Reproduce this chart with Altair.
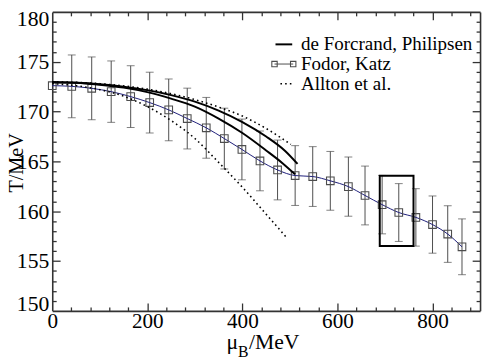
import altair as alt
import pandas as pd

# ---------------- data ----------------
# Fodor, Katz (squares with error bars)
fk_mu = [0, 41, 83, 124, 165, 205, 245, 284, 324, 362, 399, 437, 474, 511,
         548, 585, 623, 658, 694, 729, 765, 800, 832, 862]
fk_T = [172.6, 172.53, 172.33, 172.0, 171.5, 170.9, 170.17, 169.3, 168.37,
        167.29, 166.2, 165.05, 164.14, 163.58, 163.48, 163.05, 162.47, 161.58,
        160.66, 159.87, 159.38, 158.66, 157.71, 156.43]
fk_err = [None, 3.15, 3.15, 3.08, 3.1, 3.05, 3.1, 3.05, 3.05, 3.05, 3.05, 3.0,
          3.0, 3.0, 3.0, 2.95, 2.97, 2.95, 2.93, 2.9, 2.88, 2.87, 2.84, 2.8]

# de Forcrand, Philipsen (two solid curves)
dfp_up_mu = [0, 50, 100, 150, 200, 250, 300, 350, 400, 450, 490, 516]
dfp_up_T = [172.95, 172.9, 172.75, 172.5, 172.15, 171.65, 171.0, 170.1,
            168.95, 167.5, 166.05, 164.75]
dfp_lo_mu = [0, 50, 100, 150, 200, 250, 300, 350, 400, 450, 485, 511]
dfp_lo_T = [172.95, 172.9, 172.7, 172.4, 171.95, 171.3, 170.5, 169.3,
            167.85, 166.1, 164.8, 163.7]

# Allton et al. (two dotted curves)
al_up_mu = [0, 100, 200, 300, 350, 400, 450, 502]
al_up_T = [173.0, 172.8, 172.25, 171.2, 170.45, 169.55, 168.3, 166.7]
al_lo_mu = [0, 50, 100, 150, 200, 250, 300, 350, 400, 450, 495]
al_lo_T = [172.8, 172.6, 172.2, 171.55, 170.5, 169.1, 167.3, 164.9, 162.4,
           159.7, 157.25]

# box around the critical region
box_mu = [689, 760]
box_T = [156.5, 163.55]

legend_names = ["de Forcrand, Philipsen", "Fodor, Katz", "Allton et al."]

x_labels = [0, 200, 400, 600, 800]
y_labels = [150, 155, 160, 165, 170, 175, 180]
x_major = [200, 400, 600, 800]
x_minor = [v for v in range(40, 900, 40) if v % 200 != 0]
y_major = [155, 160, 165, 170, 175]
y_minor = [v for v in range(151, 180) if v % 5 != 0]

# ---------------- tables ----------------
fk = pd.DataFrame({"mu": fk_mu, "T": fk_T, "err": fk_err})
fk_e = fk.dropna().copy()
fk_e["lo"] = fk_e["T"] - fk_e["err"]
fk_e["hi"] = fk_e["T"] + fk_e["err"]
caps = pd.concat([
    pd.DataFrame({"mu": fk_e["mu"], "v": fk_e["lo"]}),
    pd.DataFrame({"mu": fk_e["mu"], "v": fk_e["hi"]}),
])

dfp = pd.concat([
    pd.DataFrame({"mu": dfp_up_mu, "T": dfp_up_T, "s": "up"}),
    pd.DataFrame({"mu": dfp_lo_mu, "T": dfp_lo_T, "s": "lo"}),
])
al = pd.concat([
    pd.DataFrame({"mu": al_up_mu, "T": al_up_T, "s": "up"}),
    pd.DataFrame({"mu": al_lo_mu, "T": al_lo_T, "s": "lo"}),
])
box = pd.DataFrame({"x1": [box_mu[0]], "x2": [box_mu[1]],
                    "y1": [box_T[0]], "y2": [box_T[1]]})

# ---------------- style ----------------
W, H = 435, 304
FONT = "Times New Roman, Liberation Serif, DejaVu Serif, serif"
AX = "#333333"
NAVY = "#1c1c78"
GREY = "#4d4d4d"

sx = alt.Scale(domain=[0, 900], nice=False, zero=False)
sy = alt.Scale(domain=[150, 180], nice=False, zero=False)


def tick_axis(orient, offset, values, size, domain=False):
    return alt.Axis(orient=orient, offset=offset, values=values, tickSize=size,
                    tickWidth=1.3, tickColor=AX, labels=False, domain=domain,
                    domainColor=AX, domainWidth=1.6, grid=False, title=None)


main_x = alt.Axis(orient="bottom", values=x_labels, ticks=False, tickSize=0,
                  domain=True, domainColor=AX, domainWidth=1.6,
                  labelFont=FONT, labelFontSize=21.5, labelColor="black",
                  labelBaseline="alphabetic", labelPadding=17,
                  labelFlush=False, labelOverlap=False, grid=False, title=None)
main_y = alt.Axis(orient="left", values=y_labels, ticks=False, tickSize=0,
                  domain=True, domainColor=AX, domainWidth=1.6,
                  labelFont=FONT, labelFontSize=22, labelColor="black",
                  labelPadding=3.5, labelFlush=False, labelOverlap=False,
                  labelOffset=alt.ExprRef(
                      expr="datum.value == 150 ? -7 : (datum.value == 180 ? 7 : 0)"),
                  grid=False, title="T/MeV", titleFont=FONT, titleFontSize=20.5,
                  titleFontWeight="normal", titleColor="black",
                  titleX=-30, titleY=153, titleAlign="center",
                  titleBaseline="alphabetic")

# ---------------- layers ----------------
err_rules = alt.Chart(fk_e).mark_rule(color=GREY, strokeWidth=1).encode(
    x=alt.X("mu:Q", scale=sx, axis=tick_axis("top", -H, x_major, 8)),
    y=alt.Y("lo:Q", scale=sy, axis=tick_axis("right", -W, y_major, 8)),
    y2="hi:Q",
)
err_caps = alt.Chart(caps).mark_tick(orient="horizontal", size=8, thickness=1,
                                     color=GREY).encode(
    x=alt.X("mu:Q", scale=sx, axis=tick_axis("top", -H, x_minor, 4)),
    y=alt.Y("v:Q", scale=sy, axis=tick_axis("right", -W, y_minor, 4)),
)
fk_line = alt.Chart(fk).mark_line(color=NAVY, strokeWidth=1,
                                  interpolate="monotone").encode(
    x=alt.X("mu:Q", scale=sx, axis=main_x),
    y=alt.Y("T:Q", scale=sy, axis=main_y),
)
fk_pts = alt.Chart(fk).mark_point(shape="square", size=60, filled=False,
                                  color=GREY, strokeWidth=1.1, opacity=1).encode(
    x=alt.X("mu:Q", scale=sx, axis=tick_axis("bottom", -H, x_major, 8, True)),
    y=alt.Y("T:Q", scale=sy, axis=tick_axis("left", -W, y_major, 8, True)),
)
dfp_lines = alt.Chart(dfp).mark_line(color="black", strokeWidth=2,
                                     interpolate="monotone").encode(
    x=alt.X("mu:Q", scale=sx, axis=tick_axis("bottom", -H, x_minor, 4)),
    y=alt.Y("T:Q", scale=sy, axis=tick_axis("left", -W, y_minor, 4)),
    detail="s:N",
)
al_lines = alt.Chart(al).mark_line(color="black", strokeWidth=1.6,
                                   strokeDash=[1.6, 3.2],
                                   interpolate="monotone").encode(
    x=alt.X("mu:Q", scale=sx, axis=None),
    y=alt.Y("T:Q", scale=sy, axis=None),
    detail="s:N",
)
box_rect = alt.Chart(box).mark_rect(fillOpacity=0, stroke="black",
                                    strokeWidth=2).encode(
    x=alt.X("x1:Q", scale=sx, axis=None), x2="x2:Q",
    y=alt.Y("y1:Q", scale=sy, axis=None), y2="y2:Q",
)

# ---------------- legend (drawn by hand) ----------------
one = pd.DataFrame({"k": [0]})
row_y = [33 + 20 * i for i in range(3)]
sym_x0, sym_x1, txt_x = 227, 244, 253

leg = []
leg.append(alt.Chart(one).mark_rule(color="black", strokeWidth=2).encode(
    x=alt.value(sym_x0), x2=alt.value(sym_x1), y=alt.value(row_y[0])))
leg.append(alt.Chart(one).mark_rule(color=GREY, strokeWidth=1).encode(
    x=alt.value(sym_x0 - 1), x2=alt.value(sym_x1 + 1), y=alt.value(row_y[1])))
for px in (sym_x0 - 1, sym_x1 + 1):
    leg.append(alt.Chart(one).mark_point(shape="square", size=30, filled=False,
                                         color=GREY, strokeWidth=1.1,
                                         opacity=1).encode(
        x=alt.value(px), y=alt.value(row_y[1])))
leg.append(alt.Chart(one).mark_rule(color="black", strokeWidth=1.6,
                                    strokeDash=[1.6, 3.2]).encode(
    x=alt.value(sym_x0 + 5), x2=alt.value(sym_x1), y=alt.value(row_y[2])))
for i, name in enumerate(legend_names):
    leg.append(alt.Chart(one).mark_text(text=name, align="left",
                                        baseline="alphabetic", font=FONT,
                                        fontSize=19.3, color="black").encode(
        x=alt.value(txt_x), y=alt.value(row_y[i] + 6)))

# x-axis title with subscript B
xt = []
xt.append(alt.Chart(one).mark_text(text="μ", align="right", baseline="alphabetic",
                                   font=FONT, fontSize=22, color="black").encode(
    x=alt.value(189), y=alt.value(343)))
xt.append(alt.Chart(one).mark_text(text="B", align="left", baseline="alphabetic",
                                   font=FONT, fontSize=16, color="black").encode(
    x=alt.value(189), y=alt.value(351)))
xt.append(alt.Chart(one).mark_text(text="/MeV", align="left", baseline="alphabetic",
                                   font=FONT, fontSize=22, color="black").encode(
    x=alt.value(200), y=alt.value(343)))

chart = alt.layer(
    err_rules, err_caps, fk_line, fk_pts, dfp_lines, al_lines, box_rect,
    *leg, *xt
).resolve_axis(
    x="independent", y="independent"
).properties(
    width=W, height=H,
    autosize=alt.AutoSizeParams(type="none"),
    padding={"left": 45, "top": 1, "right": 3, "bottom": 49},
).configure_view(stroke=None).configure_axis(grid=False)

chart.save("out.html", embed_options={"renderer": "svg", "actions": False})
